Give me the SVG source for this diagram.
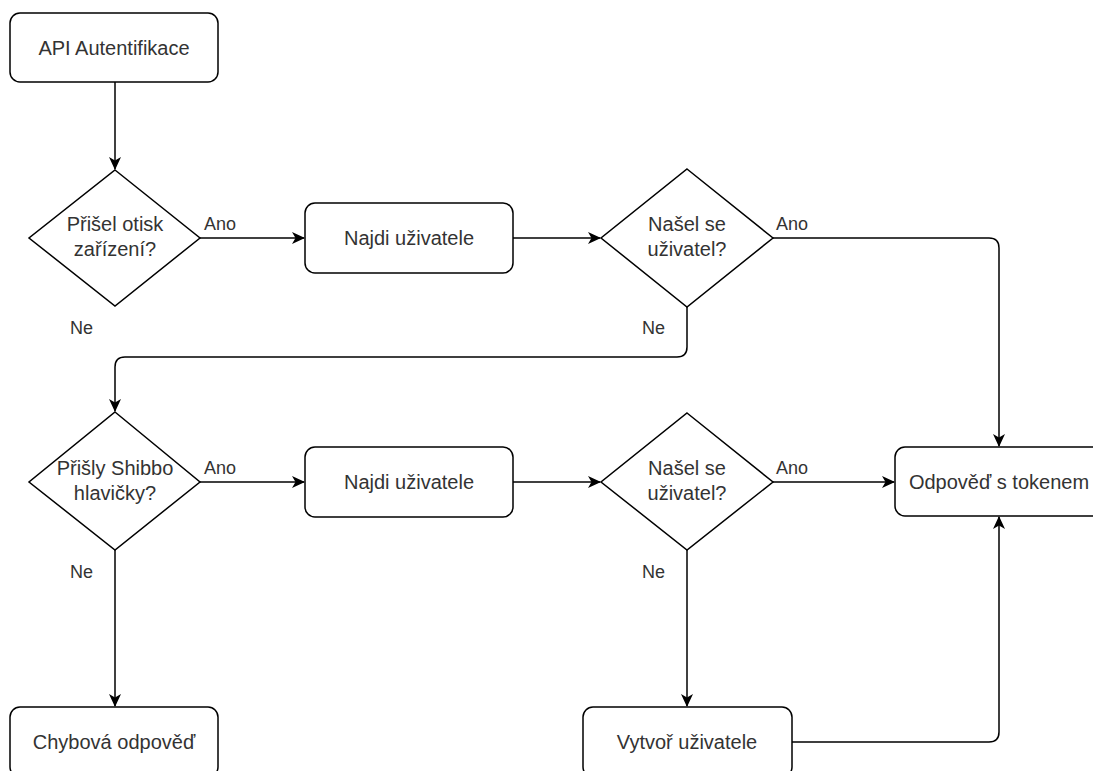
<svg xmlns="http://www.w3.org/2000/svg" width="1093" height="771" viewBox="0 0 1093 771">
  <style>
    .box { fill: #ffffff; stroke: #000000; stroke-width: 1.5; }
    .edge { fill: none; stroke: #000000; stroke-width: 1.5; }
    .txt { font-family: "Liberation Sans", Arial, sans-serif; font-size: 20px; fill: #333333; text-anchor: middle; }
    .lbl { font-family: "Liberation Sans", Arial, sans-serif; font-size: 18px; fill: #333333; }
  </style>
  <defs>
    <marker id="arrow" viewBox="0 0 13 12" refX="12" refY="6" markerWidth="13" markerHeight="12" markerUnits="userSpaceOnUse" orient="auto">
      <path d="M0,0 L13,6 L0,12 L3.5,6 Z" fill="#000000"/>
    </marker>
  </defs>
  <rect width="1093" height="771" fill="#ffffff"/>

  <!-- connectors -->
  <g id="connectors">
    <path class="edge" d="M115,82 V169" marker-end="url(#arrow)"/>
    <path class="edge" d="M200,238 H304" marker-end="url(#arrow)"/>
    <path class="edge" d="M513,238 H600" marker-end="url(#arrow)"/>
    <path class="edge" d="M773,238 H989 Q999,238 999,248 V446" marker-end="url(#arrow)"/>
    <path class="edge" d="M687,307 V347 Q687,357 677,357 H125 Q115,357 115,367 V411" marker-end="url(#arrow)"/>
    <path class="edge" d="M200,482 H304" marker-end="url(#arrow)"/>
    <path class="edge" d="M513,482 H600" marker-end="url(#arrow)"/>
    <path class="edge" d="M773,482 H894" marker-end="url(#arrow)"/>
    <path class="edge" d="M115,550 V706" marker-end="url(#arrow)"/>
    <path class="edge" d="M687,550 V706" marker-end="url(#arrow)"/>
    <path class="edge" d="M792,742 H989 Q999,742 999,732 V517" marker-end="url(#arrow)"/>
    <text class="lbl" x="204" y="230">Ano</text>
    <text class="lbl" x="776" y="230">Ano</text>
    <text class="lbl" x="70" y="334">Ne</text>
    <text class="lbl" x="642" y="334">Ne</text>
    <text class="lbl" x="204" y="474">Ano</text>
    <text class="lbl" x="776" y="474">Ano</text>
    <text class="lbl" x="70" y="578">Ne</text>
    <text class="lbl" x="642" y="578">Ne</text>
  </g>

  <g id="api-auth">
    <rect class="box" x="10" y="13" width="208" height="69" rx="10"/>
    <text class="txt" x="114" y="55">API Autentifikace</text>
  </g>

  <g id="check-fingerprint">
    <polygon class="box" points="115,170 200,238 115,306 29,238"/>
    <text class="txt" x="115" y="231">Přišel otisk</text>
    <text class="txt" x="115" y="256">zařízení?</text>
  </g>

  <g id="find-user-1">
    <rect class="box" x="305" y="203" width="208" height="70" rx="10"/>
    <text class="txt" x="409" y="245">Najdi uživatele</text>
  </g>

  <g id="user-found-1">
    <polygon class="box" points="687,169 773,238 687,307 601,238"/>
    <text class="txt" x="687" y="231">Našel se</text>
    <text class="txt" x="687" y="256">uživatel?</text>
  </g>

  <g id="check-shibbo">
    <polygon class="box" points="115,412 200,482 115,550 29,482"/>
    <text class="txt" x="115" y="475">Přišly Shibbo</text>
    <text class="txt" x="115" y="500">hlavičky?</text>
  </g>

  <g id="find-user-2">
    <rect class="box" x="305" y="447" width="208" height="70" rx="10"/>
    <text class="txt" x="409" y="489">Najdi uživatele</text>
  </g>

  <g id="user-found-2">
    <polygon class="box" points="687,413 773,482 687,550 601,482"/>
    <text class="txt" x="687" y="475">Našel se</text>
    <text class="txt" x="687" y="500">uživatel?</text>
  </g>

  <g id="token-response">
    <rect class="box" x="895" y="447" width="208" height="69" rx="10"/>
    <text class="txt" x="999" y="489">Odpověď s tokenem</text>
  </g>

  <g id="error-response">
    <rect class="box" x="10" y="707" width="208" height="70" rx="10"/>
    <text class="txt" x="114" y="749">Chybová odpověď</text>
  </g>

  <g id="create-user">
    <rect class="box" x="583" y="707" width="209" height="70" rx="10"/>
    <text class="txt" x="687" y="749">Vytvoř uživatele</text>
  </g>
</svg>
